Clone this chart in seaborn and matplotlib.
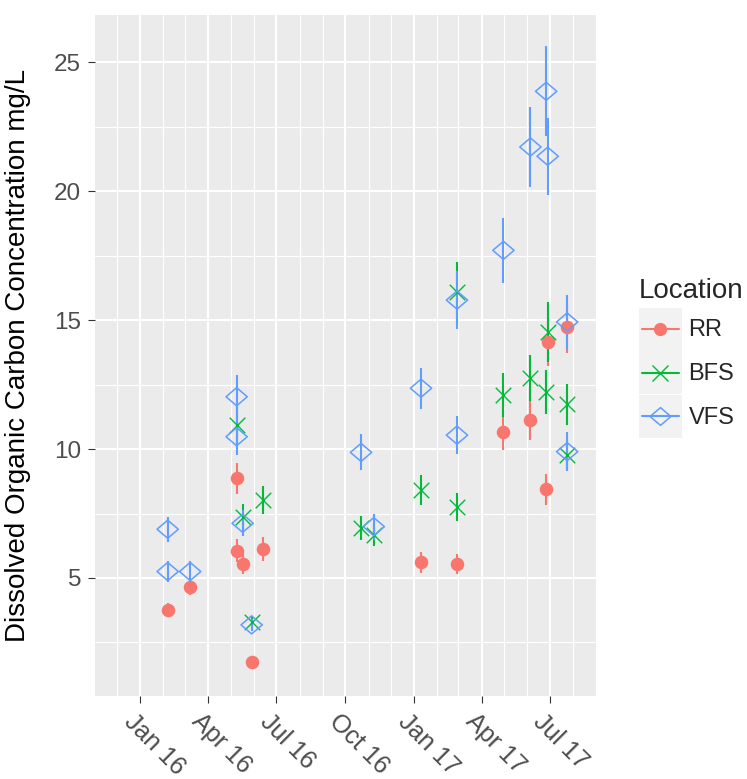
import numpy as np
import pandas as pd
import matplotlib
matplotlib.use("Agg")
import matplotlib.pyplot as plt
import matplotlib.dates as mdates
import matplotlib.transforms as mtransforms
from matplotlib.lines import Line2D
from matplotlib.patches import Rectangle
from matplotlib.path import Path
from matplotlib.legend_handler import HandlerBase
import seaborn as sns

# ---- Sampled DOC concentrations (mg/L) with their error half-widths ----
locations = ["RR", "BFS", "VFS"]

rr_dates = ["2016-02-07", "2016-03-08", "2016-05-09", "2016-05-09", "2016-05-17",
            "2016-05-29", "2016-06-13", "2017-01-10", "2017-02-27", "2017-04-30",
            "2017-06-05", "2017-06-26", "2017-06-28", "2017-07-24"]
rr_doc = [3.76, 4.64, 6.06, 8.86, 5.54, 1.73, 6.12, 5.61, 5.54, 10.67,
          11.12, 8.44, 14.16, 14.72]
rr_err = [0.25, 0.3, 0.45, 0.6, 0.4, 0.12, 0.45, 0.4, 0.4, 0.7,
          0.75, 0.6, 0.95, 1.0]

bfs_dates = ["2016-05-09", "2016-05-17", "2016-05-29", "2016-06-13", "2016-10-22",
             "2016-11-08", "2017-01-10", "2017-02-27", "2017-02-27", "2017-04-30",
             "2017-06-05", "2017-06-26", "2017-06-28", "2017-07-24", "2017-07-24"]
bfs_doc = [10.93, 7.38, 3.31, 8.02, 6.93, 6.67, 8.41, 7.76, 16.09, 12.09,
           12.76, 12.22, 14.55, 11.74, 9.77]
bfs_err = [0.75, 0.5, 0.23, 0.55, 0.47, 0.42, 0.58, 0.54, 1.18, 0.85,
           0.9, 0.85, 1.17, 0.8, 0.6]

vfs_dates = ["2016-02-07", "2016-02-07", "2016-03-08", "2016-05-09", "2016-05-09",
             "2016-05-17", "2016-05-29", "2016-10-22", "2016-11-08", "2017-01-10",
             "2017-02-27", "2017-02-27", "2017-04-30", "2017-06-05", "2017-06-26",
             "2017-06-28", "2017-07-24", "2017-07-24"]
vfs_doc = [6.89, 5.25, 5.25, 12.03, 10.48, 7.12, 3.18, 9.87, 6.99, 12.36,
           10.54, 15.78, 17.71, 21.72, 23.88, 21.36, 14.93, 9.90]
vfs_err = [0.48, 0.39, 0.39, 0.84, 0.71, 0.5, 0.22, 0.7, 0.5, 0.8,
           0.73, 1.13, 1.27, 1.55, 1.74, 1.5, 1.05, 0.76]

df = pd.concat([
    pd.DataFrame({"Date": pd.to_datetime(d), "DOC": v, "SE": e, "Location": loc})
    for loc, d, v, e in [("RR", rr_dates, rr_doc, rr_err),
                         ("BFS", bfs_dates, bfs_doc, bfs_err),
                         ("VFS", vfs_dates, vfs_doc, vfs_err)]
], ignore_index=True)

palette = {"RR": "#F8766D", "BFS": "#00BA38", "VFS": "#619CFF"}

# open diamond, a little wider than tall
diamond = Path([(0, 0.85), (1, 0), (0, -0.85), (-1, 0), (0, 0.85)],
               [Path.MOVETO, Path.LINETO, Path.LINETO, Path.LINETO, Path.CLOSEPOLY])

marker_style = {
    "RR": dict(marker="o", s=95, linewidth=0, edgecolor=palette["RR"]),
    "BFS": dict(marker="x", s=125, linewidth=1.0),
    "VFS": dict(marker=diamond, s=235, linewidth=1.1, facecolor="none",
                edgecolor=palette["VFS"]),
}

sns.set_theme(style="darkgrid")
plt.rcParams.update({
    "font.family": ["Liberation Sans", "DejaVu Sans"],
    "axes.facecolor": "#EBEBEB",
    "grid.color": "white",
    "axes.edgecolor": "none",
    "xtick.color": "#333333",
    "ytick.color": "#333333",
    "xtick.labelcolor": "#4D4D4D",
    "ytick.labelcolor": "#4D4D4D",
})

fig = plt.figure(figsize=(7.47, 7.79), dpi=100)
ax = fig.add_axes([95 / 747, 1 - 696 / 779, 501 / 747, 681 / 779])

for loc in locations:
    sub = df[df["Location"] == loc]
    ax.vlines(sub["Date"], sub["DOC"] - sub["SE"], sub["DOC"] + sub["SE"],
              color=palette[loc], linewidth=1.5, zorder=2)
    sns.scatterplot(data=sub, x="Date", y="DOC", color=palette[loc], ax=ax,
                    legend=False, zorder=3, **marker_style[loc])

ax.set_xlim(pd.Timestamp("2015-11-02"), pd.Timestamp("2017-08-31 12:00"))
ax.set_ylim(0.42, 26.84)

ax.xaxis.set_major_locator(mdates.MonthLocator(bymonth=[1, 4, 7, 10]))
ax.xaxis.set_minor_locator(mdates.MonthLocator())
ax.xaxis.set_major_formatter(mdates.DateFormatter("%b %y"))
ax.yaxis.set_major_locator(matplotlib.ticker.MultipleLocator(5))
ax.yaxis.set_minor_locator(matplotlib.ticker.MultipleLocator(2.5))

ax.grid(which="major", color="white", linewidth=1.5)
ax.grid(which="minor", color="white", linewidth=0.8)
ax.tick_params(which="major", length=5, width=0.8, bottom=True, left=True)
ax.tick_params(axis="y", which="major", labelsize=17.5, pad=5)
ax.tick_params(axis="x", which="major", labelsize=18, pad=4)
ax.tick_params(which="minor", length=0)

# slanted date labels hanging down-right from each tick
shift = mtransforms.ScaledTranslation(-4 / 100, -1 / 100, fig.dpi_scale_trans)
for lab in ax.get_xticklabels():
    lab.set_rotation(-45)
    lab.set_ha("left")
    lab.set_va("top")
    lab.set_rotation_mode("anchor")
    lab.set_transform(lab.get_transform() + shift)

ax.set_xlabel("")
ax.set_ylabel("Dissolved Organic Carbon Concentration mg/L", fontsize=20,
              color="black")
ax.yaxis.set_label_coords(-0.128, 0.5)
for sp in ax.spines.values():
    sp.set_visible(False)


class KeyHandler(HandlerBase):
    """Grey key square with a horizontal line through the point marker."""

    def create_artists(self, legend, orig_handle, xdescent, ydescent, width,
                       height, fontsize, trans):
        x0, y0 = -xdescent, -ydescent
        yc = y0 + height / 2
        bg = Rectangle((x0, y0), width, height, facecolor="#F2F2F2",
                       edgecolor="none", transform=trans)
        line = Line2D([x0 + 0.07 * width, x0 + 0.93 * width], [yc, yc],
                      color=orig_handle.get_color(), linewidth=1.5,
                      transform=trans)
        mk = Line2D([x0 + width / 2], [yc], linestyle="none",
                    marker=orig_handle.get_marker(),
                    markersize=orig_handle.get_markersize(),
                    markerfacecolor=orig_handle.get_markerfacecolor(),
                    markeredgecolor=orig_handle.get_markeredgecolor(),
                    markeredgewidth=orig_handle.get_markeredgewidth(),
                    transform=trans)
        return [bg, line, mk]


handles = [
    Line2D([], [], color=palette["RR"], marker="o", markersize=9.5,
           markerfacecolor=palette["RR"], markeredgewidth=0),
    Line2D([], [], color=palette["BFS"], marker="x", markersize=11,
           markeredgecolor=palette["BFS"], markeredgewidth=1.0),
    Line2D([], [], color=palette["VFS"], marker=diamond, markersize=15,
           markerfacecolor="none", markeredgecolor=palette["VFS"],
           markeredgewidth=1.1),
]
leg = fig.legend(handles, locations, loc="upper left",
                 bbox_to_anchor=(639 / 747, 1 - 278 / 779),
                 frameon=False, title="Location", fontsize=17,
                 title_fontsize=20, handlelength=1.8, handleheight=2.4,
                 labelspacing=0.04, handletextpad=0.3, borderpad=0,
                 borderaxespad=0,
                 handler_map={Line2D: KeyHandler()})
leg._legend_box.align = "left"
leg._legend_box.sep = 2.8

fig.savefig("out.png", dpi=100)
